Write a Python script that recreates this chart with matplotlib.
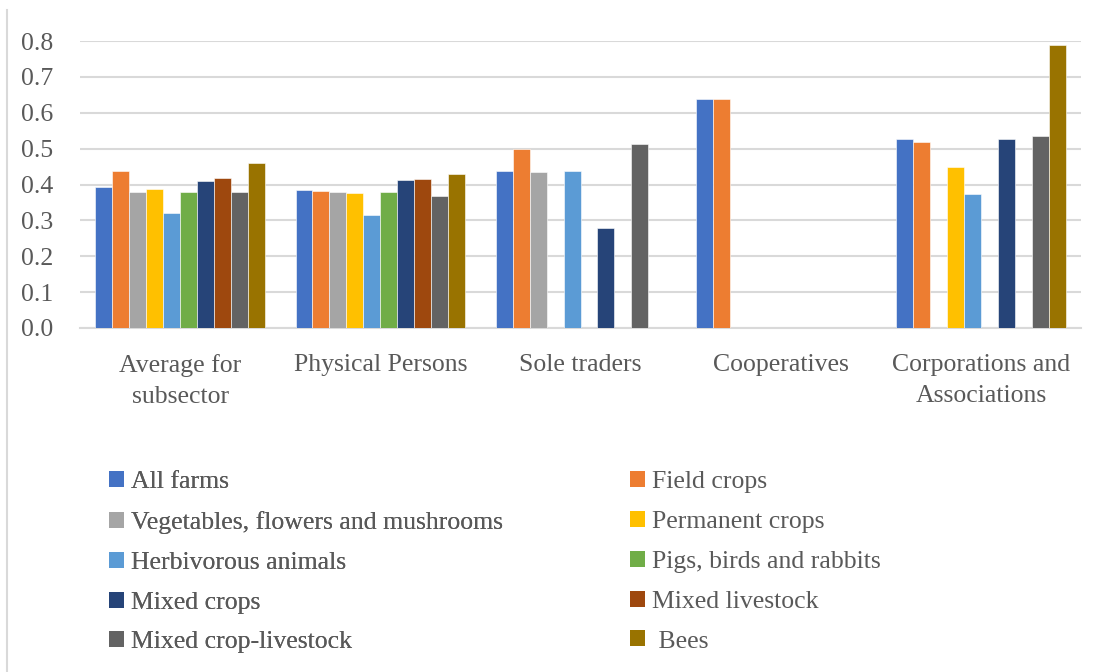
import numpy as np
import matplotlib
matplotlib.use("Agg")
import matplotlib.pyplot as plt
from matplotlib.patches import Patch
from matplotlib.lines import Line2D

# Farm groups (x axis) and farm types (series)
groups = ["Average for\nsubsector", "Physical Persons", "Sole traders",
          "Cooperatives", "Corporations and\nAssociations"]
series = ["All farms", "Field crops", "Vegetables, flowers and mushrooms",
          "Permanent crops", "Herbivorous animals", "Pigs, birds and rabbits",
          "Mixed crops", "Mixed livestock", "Mixed crop-livestock", " Bees"]

# one list per farm type, values per group (None = no data)
all_farms = [0.394, 0.384, 0.439, 0.638, 0.527]
field_crops = [0.439, 0.382, 0.499, 0.638, 0.519]
vegetables = [0.379, 0.379, 0.436, None, None]
permanent = [0.388, 0.377, None, None, 0.450]
herbivorous = [0.320, 0.314, 0.439, None, 0.373]
pigs_birds = [0.379, 0.379, None, None, None]
mixed_crops = [0.409, 0.412, 0.279, None, 0.526]
mixed_livestock = [0.419, 0.415, None, None, None]
mixed_crop_livestock = [0.379, 0.368, 0.514, None, 0.534]
bees = [0.459, 0.428, None, None, 0.788]

values = [all_farms, field_crops, vegetables, permanent, herbivorous,
          pigs_birds, mixed_crops, mixed_livestock, mixed_crop_livestock, bees]
colors = ["#4472C4", "#ED7D31", "#A5A5A5", "#FFC000", "#5B9BD5",
          "#70AD47", "#264478", "#9E480E", "#636363", "#997300"]

text_col = "#595959"
fs = 18.5
plt.rcParams["font.family"] = ["Liberation Serif", "DejaVu Serif"]

fig = plt.figure(figsize=(10.96, 6.72), dpi=100)
ax = fig.add_axes([80 / 1096, 1 - 328 / 672, 1001 / 1096, 287 / 672])

x = np.arange(len(groups))
n = len(series)
width = 0.847 / n
for i, (vals, col) in enumerate(zip(values, colors)):
    xs = [xi for xi, v in zip(x, vals) if v is not None]
    hs = [v for v in vals if v is not None]
    ax.bar(np.array(xs) + (i - (n - 1) / 2) * width, hs, width,
           color=col, edgecolor="white", linewidth=0.4, zorder=3)

ax.set_xlim(-0.5, len(groups) - 0.5)
ax.set_ylim(0, 0.8)
ax.set_yticks(np.arange(0, 0.81, 0.1))
ax.set_yticklabels([f"{t:.1f}" for t in np.arange(0, 0.81, 0.1)])
ax.yaxis.grid(True, color="#d9d9d9", linewidth=1.5, zorder=0)
ax.set_xticks(x)
ax.set_xticklabels(groups, linespacing=1.55)
ax.tick_params(axis="both", length=0, labelsize=fs, colors=text_col)
ax.tick_params(axis="x", pad=18.5)
ax.tick_params(axis="y", pad=19.5)
for side in ["top", "right", "left"]:
    ax.spines[side].set_visible(False)
ax.spines["bottom"].set_color("#d9d9d9")
ax.spines["bottom"].set_linewidth(1.5)

# legend in two columns, filled row by row
handles = [Patch(facecolor=c, edgecolor="none") for c in colors]
leg_kw = dict(frameon=False, fontsize=fs, handlelength=0.58, handleheight=0.58,
              handletextpad=0.25, labelspacing=0.69, borderaxespad=0,
              labelcolor=text_col, loc="upper left")
left = fig.legend(handles[0::2], series[0::2],
                  bbox_to_anchor=(99 / 1096, 1 - 461 / 672), **leg_kw)
fig.add_artist(left)
fig.legend(handles[1::2], series[1::2],
           bbox_to_anchor=(620 / 1096, 1 - 461 / 672), **leg_kw)

# chart frame edge on the left
fig.add_artist(Line2D([7 / 1096, 7 / 1096], [0, 1 - 10 / 672],
                      transform=fig.transFigure, color="#d9d9d9", linewidth=1.5))

fig.savefig("out.png", dpi=100)
